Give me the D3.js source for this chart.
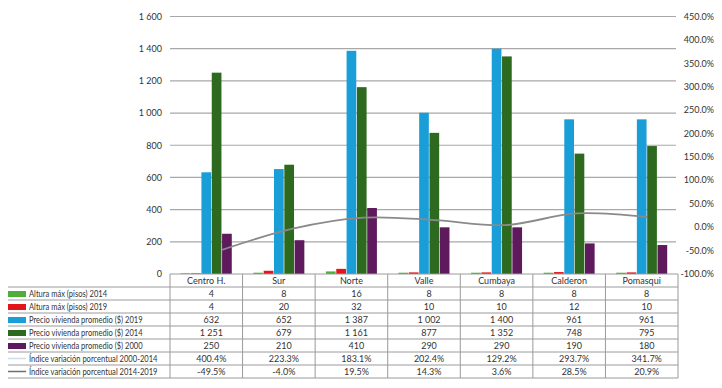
<!DOCTYPE html>
<html>
<head>
<meta charset="utf-8">
<script src="https://cdn.jsdelivr.net/npm/d3@7"></script>
<style>
  body { margin: 0; background: #fff; }
  svg text { font-family: Lato, "Liberation Sans", sans-serif; font-size: 9px; fill: #333; }
</style>
</head>
<body>
<div id="chart"></div>
<script>
// Chart data
const categories = ["Centro H.", "Sur", "Norte", "Valle", "Cumbaya", "Calderon", "Pomasqui"];
const altura2014 = [4, 8, 16, 8, 8, 8, 8];
const altura2019 = [4, 20, 32, 10, 10, 12, 10];
const precio2019 = [632, 652, 1387, 1002, 1400, 961, 961];
const precio2014 = [1251, 679, 1161, 877, 1352, 748, 795];
const precio2000 = [250, 210, 410, 290, 290, 190, 180];
const indice0014 = [400.4, 223.3, 183.1, 202.4, 129.2, 293.7, 341.7];
const indice1419 = [-49.5, -4.0, 19.5, 14.3, 3.6, 28.5, 20.9];
const leftTicks = [0, 200, 400, 600, 800, 1000, 1200, 1400, 1600];
const rightTicks = [-100, -50, 0, 50, 100, 150, 200, 250, 300, 350, 400, 450];

const width = 722, height = 388;

const svg = d3.select("#chart")
  .append("svg")
  .attr("width", width)
  .attr("height", height);

const loc = d3.formatLocale({ decimal: ".", thousands: " ", grouping: [3], currency: ["$", ""], minus: "-" });
const fmtNum = loc.format(",");
const fmtPct = v => loc.format(".1f")(v) + "%";

// series used for bars (in group order)
const barSeries = [
  { name: "Altura máx (pisos) 2014", values: altura2014, color: "#4fae3b" },
  { name: "Altura máx (pisos) 2019", values: altura2019, color: "#e3141b" },
  { name: "Precio vivienda promedio ($) 2019", values: precio2019, color: "#1a9ed8" },
  { name: "Precio vivienda promedio ($) 2014", values: precio2014, color: "#2d6a1f" },
  { name: "Precio vivienda promedio ($) 2000", values: precio2000, color: "#5e1a5c" }
];
// the 2000-2014 line is not visible in the plot, only in the table key
const lineSeries = [
  { name: "Índice variación porcentual 2000-2014", values: indice0014, color: null, legend: "#cfdde6" },
  { name: "Índice variación porcentual 2014-2019", values: indice1419, color: "#8a8a8a", legend: "#6f6f6f" }
];

// Scales
const plotLeft = 170, plotRight = 678, plotTop = 16.5, plotBottom = 274;
const x = d3.scaleBand().domain(categories).range([plotLeft, plotRight]);
const xInner = d3.scaleBand().domain(barSeries.map(s => s.name))
  .range([10.8, x.bandwidth() - 10.8]).paddingInner(0.06);
const y = d3.scaleLinear().domain([0, 1600]).range([plotBottom, plotTop]);
const y2 = d3.scaleLinear().domain([-100, 450]).range([plotBottom - 0.5, plotTop]);
const xLine = d3.scalePoint().domain(categories)
  .range([x(categories[0]) + 52, x(categories[6]) + x.bandwidth() - 31]);

// Gridlines
svg.append("g")
  .selectAll("line")
  .data(leftTicks.slice(1))
  .enter()
  .append("line")
  .attr("x1", plotLeft)
  .attr("x2", plotRight - 2)
  .attr("y1", d => y(d))
  .attr("y2", d => y(d))
  .attr("stroke", "#a8a8a8")
  .attr("stroke-width", 1.2);

// Left axis
const leftAxis = svg.append("g")
  .attr("transform", `translate(${plotLeft},0)`)
  .call(d3.axisLeft(y).tickValues(leftTicks).tickFormat(fmtNum).tickSize(0).tickPadding(8));
leftAxis.select(".domain").remove();
leftAxis.selectAll("text").style("font-size", "9px").style("font-family", null).attr("fill", "#333");

// Right axis
const rightAxis = svg.append("g")
  .attr("transform", `translate(${plotRight},0)`)
  .call(d3.axisRight(y2).tickValues(rightTicks).tickFormat(fmtPct).tickSize(0));
rightAxis.select(".domain").remove();
rightAxis.selectAll("text")
  .attr("text-anchor", "end")
  .attr("x", 36)
  .style("font-size", "9px").style("font-family", null).attr("fill", "#333");

// Bars
const groups = svg.append("g")
  .selectAll("g")
  .data(barSeries)
  .enter()
  .append("g")
  .attr("fill", d => d.color);

groups.selectAll("rect")
  .data(s => s.values.map((v, i) => ({ series: s.name, cat: categories[i], value: v })))
  .enter()
  .append("rect")
  .attr("x", d => x(d.cat) + xInner(d.series))
  .attr("width", xInner.bandwidth())
  .attr("y", d => y(d.value))
  .attr("height", d => y(0) - y(d.value));

// Lines on the secondary axis
const line = d3.line()
  .x((v, i) => xLine(categories[i]))
  .y(v => y2(v))
  .curve(d3.curveCatmullRom);

svg.append("g")
  .selectAll("path")
  .data(lineSeries.filter(d => d.color))
  .enter()
  .append("path")
  .attr("d", d => line(d.values))
  .attr("fill", "none")
  .attr("stroke", d => d.color)
  .attr("stroke-width", 1.8);

// Data table below the plot
const rowH = 13;
const headerTop = plotBottom, rowsTop = plotBottom + 13;
const tableRows = [
  ...barSeries.map(s => ({ ...s, kind: "bar", fmt: fmtNum })),
  ...lineSeries.map(s => ({ ...s, kind: "line", fmt: fmtPct }))
];
const tableBottom = rowsTop + rowH * tableRows.length;
const table = svg.append("g");
const gridColor = "#9a9a9a";

// header top border and column separators
table.append("line")
  .attr("x1", plotLeft).attr("x2", plotRight)
  .attr("y1", headerTop).attr("y2", headerTop)
  .attr("stroke", gridColor);

table.selectAll("line.vsep")
  .data(categories.concat(["end"]))
  .enter()
  .append("line")
  .attr("class", "vsep")
  .attr("x1", (d, i) => plotLeft + i * x.bandwidth())
  .attr("x2", (d, i) => plotLeft + i * x.bandwidth())
  .attr("y1", headerTop).attr("y2", tableBottom)
  .attr("stroke", gridColor);

// horizontal row borders
table.selectAll("line.hsep")
  .data(d3.range(tableRows.length + 1))
  .enter()
  .append("line")
  .attr("class", "hsep")
  .attr("x1", 8).attr("x2", plotRight)
  .attr("y1", i => rowsTop + i * rowH)
  .attr("y2", i => rowsTop + i * rowH)
  .attr("stroke", gridColor);

// category header labels
table.selectAll("text.cat")
  .data(categories)
  .enter()
  .append("text")
  .attr("class", "cat")
  .attr("x", d => x(d) + x.bandwidth() / 2)
  .attr("y", headerTop + 10)
  .attr("text-anchor", "middle")
  .text(d => d);

// rows: legend key, label and values
const rows = table.selectAll("g.row")
  .data(tableRows)
  .enter()
  .append("g")
  .attr("class", "row")
  .attr("transform", (d, i) => `translate(0,${rowsTop + i * rowH})`);

rows.filter(d => d.kind === "bar")
  .append("rect")
  .attr("x", 8).attr("y", 4)
  .attr("width", 18).attr("height", 6)
  .attr("fill", d => d.color);

rows.filter(d => d.kind === "line")
  .append("line")
  .attr("x1", 8).attr("x2", 26)
  .attr("y1", 6.5).attr("y2", 6.5)
  .attr("stroke", d => d.legend)
  .attr("stroke-width", 1.5);

// row labels are set in a narrow face in the original, squeeze them a bit
rows.append("text")
  .attr("x", 29)
  .attr("y", 10)
  .text(d => d.name)
  .each(function () {
    const w = this.getComputedTextLength();
    d3.select(this).attr("textLength", w * 0.84).attr("lengthAdjust", "spacingAndGlyphs");
  });

rows.selectAll("text.val")
  .data(d => d.values.map((v, i) => ({ cat: categories[i], label: d.fmt(v) })))
  .enter()
  .append("text")
  .attr("class", "val")
  .attr("x", d => x(d.cat) + x.bandwidth() / 2 + 5)
  .attr("y", 10)
  .attr("text-anchor", "middle")
  .text(d => d.label);
</script>
</body>
</html>
